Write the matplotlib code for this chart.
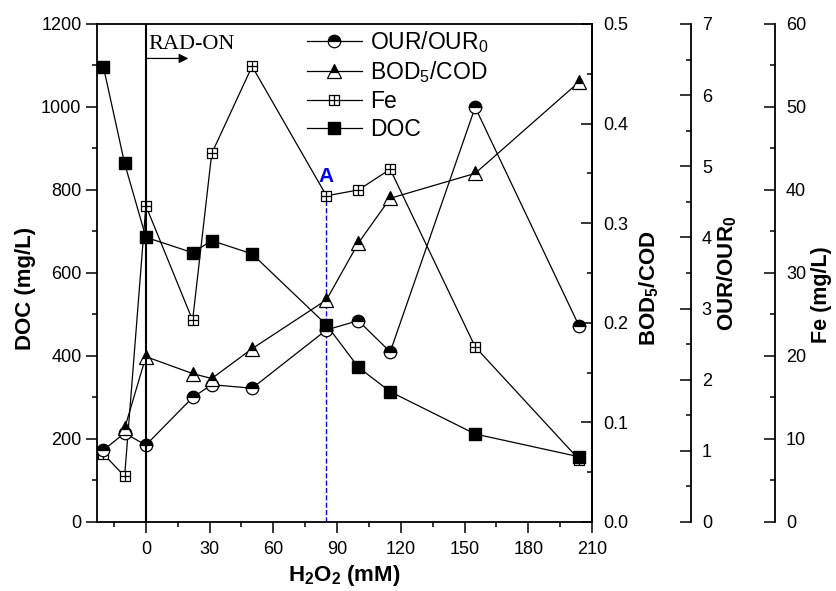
import numpy as np
import matplotlib
matplotlib.use("Agg")
import matplotlib.pyplot as plt
from matplotlib.path import Path
from matplotlib.ticker import MultipleLocator, FormatStrFormatter

plt.rcParams['font.family'] = ['Liberation Sans', 'DejaVu Sans']
plt.rcParams['mathtext.fontset'] = 'custom'
plt.rcParams['mathtext.rm'] = 'Liberation Sans'
plt.rcParams['mathtext.bf'] = 'Liberation Sans:bold'

# data
h2o2 = [-20, -10, 0, 22, 31, 50, 85, 100, 115, 155, 204]
doc = [1097, 864, 686, 649, 678, 646, 475, 373, 314, 212, 157]
fe = [8.2, 5.5, 38.1, 24.3, 44.4, 54.9, 39.3, 40.0, 42.5, 21.1, 7.5]
our = [1.01, 1.25, 1.08, 1.75, 1.93, 1.88, 2.70, 2.83, 2.39, 5.83, 2.75]
h2o2_bod = [-10, 0, 22, 31, 50, 85, 100, 115, 155, 204]
bod = [0.094, 0.166, 0.149, 0.144, 0.174, 0.223, 0.280, 0.325, 0.350, 0.442]

point_a = 85

# square with a cross inside (the Fe marker)
fe_marker = Path(
    [(-1, -1), (1, -1), (1, 1), (-1, 1), (-1, -1), (-1, 0), (1, 0), (0, -1), (0, 1)],
    [Path.MOVETO, Path.LINETO, Path.LINETO, Path.LINETO, Path.CLOSEPOLY,
     Path.MOVETO, Path.LINETO, Path.MOVETO, Path.LINETO])

fig = plt.figure(figsize=(8.37, 5.91), dpi=100)
ax = fig.add_axes([0.1159, 0.1168, 0.5914, 0.8426])
ax_bod = ax.twinx()
ax_our = ax.twinx()
ax_fe = ax.twinx()

# draw order: Fe at the bottom, DOC on top
ax_fe.set_zorder(1)
ax_our.set_zorder(2)
ax_bod.set_zorder(3)
ax.set_zorder(4)
for a in (ax, ax_bod, ax_our):
    a.patch.set_visible(False)

lw_sp = 1.3
for a in (ax_bod, ax_our, ax_fe):
    for s in ('left', 'top', 'bottom'):
        a.spines[s].set_visible(False)
    a.spines['right'].set_linewidth(lw_sp)
for s in ax.spines.values():
    s.set_linewidth(lw_sp)
ax_our.spines['right'].set_position(('axes', 1.1994))
ax_fe.spines['right'].set_position(('axes', 1.3697))

line_kw = dict(color='black', lw=0.9)
l_fe, = ax_fe.plot(h2o2, fe, marker=fe_marker, ms=7.5, mfc='white', mec='black',
                   mew=0.9, label='Fe', **line_kw)
ax_fe.vlines(point_a, 0, fe[h2o2.index(point_a)], colors='blue', linestyles='--',
             lw=1.0, zorder=1)
ax_fe.annotate('A', (point_a, fe[h2o2.index(point_a)]), xytext=(0, 10),
               textcoords='offset points', ha='center', va='baseline',
               color='blue', fontweight='bold', fontsize=15)
l_our, = ax_our.plot(h2o2, our, marker='o', ms=9, fillstyle='top', mfc='black',
                     mfcalt='white', mec='black', mew=0.9, label='OUR/OUR$_0$', **line_kw)
l_bod, = ax_bod.plot(h2o2_bod, bod, marker='^', ms=10, fillstyle='top', mfc='black',
                     mfcalt='white', mec='black', mew=0.9, label='BOD$_5$/COD', **line_kw)
l_doc, = ax.plot(h2o2, doc, marker='s', ms=8, mfc='black', mec='black',
                 label='DOC', **line_kw)

ax.axvline(0, color='black', lw=1.5)
ax.annotate('', xy=(20, 1117), xytext=(0, 1117),
            arrowprops=dict(arrowstyle='-|>', color='black', lw=0.9,
                            mutation_scale=14, shrinkA=0, shrinkB=0))
ax.text(1.0, 1140, 'RAD-ON', family='Liberation Serif', fontsize=16,
        ha='left', va='baseline')

ax.set_xlim(-23, 210)
ax.set_ylim(0, 1200)
ax_bod.set_ylim(0, 0.5)
ax_our.set_ylim(0, 7)
ax_fe.set_ylim(0, 60)

ax.xaxis.set_major_locator(MultipleLocator(30))
ax.xaxis.set_minor_locator(MultipleLocator(15))
ax.yaxis.set_major_locator(MultipleLocator(200))
ax.yaxis.set_minor_locator(MultipleLocator(100))
ax_bod.yaxis.set_major_locator(MultipleLocator(0.1))
ax_bod.yaxis.set_minor_locator(MultipleLocator(0.05))
ax_bod.yaxis.set_major_formatter(FormatStrFormatter('%.1f'))
ax_our.yaxis.set_major_locator(MultipleLocator(1))
ax_our.yaxis.set_minor_locator(MultipleLocator(0.5))
ax_fe.yaxis.set_major_locator(MultipleLocator(10))
ax_fe.yaxis.set_minor_locator(MultipleLocator(5))

ax.tick_params(axis='both', which='both', direction='out', labelsize=13,
               width=1.1, top=False, right=False)
ax.tick_params(which='major', length=7.7)
ax.tick_params(which='minor', length=3.8)
ax.tick_params(axis='y', pad=3.5)
ax.tick_params(axis='x', pad=6)
for a in (ax_bod, ax_our, ax_fe):
    a.tick_params(axis='y', which='both', direction='in', labelsize=13,
                  width=1.1, pad=8)
    a.tick_params(which='major', length=7.7)
    a.tick_params(which='minor', length=3.8)

lab_kw = dict(fontsize=16, fontweight='bold')
ax.set_xlabel(r'H$_\mathbf{2}$O$_\mathbf{2}$ (mM)', **lab_kw)
ax.xaxis.set_label_coords(0.5, -0.082)
ax.set_ylabel('DOC (mg/L)', **lab_kw)
ax.yaxis.set_label_coords(-0.123, 0.468)
ax_bod.set_ylabel(r'BOD$_\mathbf{5}$/COD', **lab_kw)
ax_bod.yaxis.set_label_coords(1.091, 0.47)
ax_our.set_ylabel(r'OUR/OUR$_\mathbf{0}$', **lab_kw)
ax_our.yaxis.set_label_coords(1.250, 0.50)
ax_fe.set_ylabel('Fe (mg/L)', fontsize=15.5, fontweight='bold')
ax_fe.yaxis.set_label_coords(1.443, 0.456)

ax.legend([l_our, l_bod, l_fe, l_doc],
          [l_our.get_label(), l_bod.get_label(), l_fe.get_label(), l_doc.get_label()],
          loc='upper left', bbox_to_anchor=(0.424, 0.99), frameon=False,
          fontsize=16.5, handlelength=2.4, handletextpad=0.35, labelspacing=0.2,
          borderaxespad=0, borderpad=0)

fig.savefig('out.png', dpi=100)
